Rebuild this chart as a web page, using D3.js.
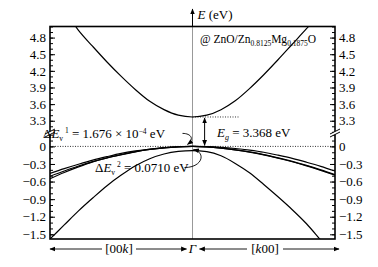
<!DOCTYPE html>
<html>
<head>
<meta charset="utf-8">
<script src="https://cdn.jsdelivr.net/npm/d3@7"></script>
<style>
  body { margin: 0; background: #fff; }
  svg text { font-family: "Liberation Serif", "Times New Roman", Times, serif; fill: #000; }
</style>
</head>
<body>
<div id="chart"></div>
<script>
// Band structure of ZnO/Zn0.8125Mg0.1875O along [00k] (k < 0) and [k00] (k > 0)
const kValues = [-1, -0.9, -0.8, -0.7, -0.6, -0.5, -0.4, -0.3, -0.2, -0.1, 0,
  0.1, 0.2, 0.3, 0.4, 0.5, 0.6, 0.7, 0.8, 0.9, 1];

const conduction = [5.55, 5.3, 4.93, 4.64, 4.36, 4.1, 3.86, 3.65, 3.5, 3.4, 3.368,
  3.4, 3.5, 3.66, 3.88, 4.13, 4.4, 4.68, 4.96, 5.25, 5.55];
const valence1 = [-0.46, -0.38, -0.305, -0.235, -0.175, -0.12, -0.078, -0.044, -0.02, -0.006, 0,
  -0.005, -0.016, -0.036, -0.064, -0.1, -0.15, -0.205, -0.27, -0.34, -0.42];
const valence2 = [-0.51, -0.42, -0.335, -0.26, -0.195, -0.14, -0.09, -0.052, -0.024, -0.007, -0.00017,
  -0.008, -0.028, -0.058, -0.095, -0.14, -0.195, -0.255, -0.325, -0.4, -0.48];
const valence3 = [-0.55, -0.445, -0.35, -0.265, -0.198, -0.142, -0.092, -0.053, -0.025, -0.008, -0.00017,
  -0.009, -0.03, -0.06, -0.098, -0.145, -0.2, -0.262, -0.333, -0.41, -0.49];
const valence4 = [-1.58, -1.34, -1.1, -0.88, -0.67, -0.49, -0.33, -0.21, -0.13, -0.085, -0.071,
  -0.09, -0.16, -0.29, -0.45, -0.65, -0.86, -1.08, -1.32, -1.6, -1.88];

const upperTicks = [3.3, 3.6, 3.9, 4.2, 4.5, 4.8];
const lowerTicks = [-1.5, -1.2, -0.9, -0.6, -0.3, 0];

const bandGap = 3.368;

const width = 378;
const height = 267;

const svg = d3.select('#chart')
  .append('svg')
  .attr('width', width)
  .attr('height', height);

const plotLeft = 50, plotRight = 335, plotTop = 26.5, plotBottom = 239, breakY = 133.5;

const x = d3.scaleLinear().domain([-1, 1]).range([plotLeft, plotRight]);
const yHigh = d3.scaleLinear().domain([3.07, 5.0]).range([breakY, plotTop]);
const yLow = d3.scaleLinear().domain([-1.58, 0.22]).range([plotBottom, breakY]);
const y = (e) => (e > 2 ? yHigh(e) : yLow(e));

// arrow heads
const defs = svg.append('defs');
defs.append('marker')
  .attr('id', 'head')
  .attr('viewBox', '0 0 10 10')
  .attr('refX', 9).attr('refY', 5)
  .attr('markerWidth', 6).attr('markerHeight', 6)
  .attr('markerUnits', 'userSpaceOnUse')
  .attr('orient', 'auto-start-reverse')
  .append('path')
  .attr('d', 'M0,1 L10,5 L0,9 Z')
  .attr('fill', '#000');

defs.append('clipPath').attr('id', 'upperClip')
  .append('rect').attr('x', plotLeft).attr('y', plotTop)
  .attr('width', plotRight - plotLeft).attr('height', breakY - plotTop);
defs.append('clipPath').attr('id', 'lowerClip')
  .append('rect').attr('x', plotLeft).attr('y', breakY)
  .attr('width', plotRight - plotLeft).attr('height', plotBottom - breakY);

// Gamma line
svg.append('line')
  .attr('x1', x(0)).attr('x2', x(0))
  .attr('y1', plotTop).attr('y2', plotBottom)
  .attr('stroke', '#999').attr('stroke-width', 1);

// dotted reference lines
svg.append('line')
  .attr('x1', plotLeft).attr('x2', plotRight)
  .attr('y1', y(0)).attr('y2', y(0))
  .attr('stroke', '#000').attr('stroke-width', 0.8)
  .attr('stroke-dasharray', '1,1.5');
svg.append('line')
  .attr('x1', x(0)).attr('x2', x(0.33))
  .attr('y1', y(bandGap)).attr('y2', y(bandGap))
  .attr('stroke', '#000').attr('stroke-width', 0.8)
  .attr('stroke-dasharray', '1,1.5');

// bands
const line = d3.line()
  .x((d, i) => x(kValues[i]))
  .y((d) => y(d))
  .curve(d3.curveMonotoneX);

svg.append('path')
  .attr('clip-path', 'url(#upperClip)')
  .attr('d', line(conduction))
  .attr('fill', 'none').attr('stroke', '#000').attr('stroke-width', 1.2);

svg.append('g')
  .attr('clip-path', 'url(#lowerClip)')
  .selectAll('path')
  .data([valence1, valence2, valence3, valence4])
  .enter()
  .append('path')
  .attr('d', line)
  .attr('fill', 'none').attr('stroke', '#000').attr('stroke-width', 1.2);

// axes: major and minor ticks pointing inward
function drawAxis(scale, majors, minors, side) {
  const axisFn = side === 'left' ? d3.axisLeft : d3.axisRight;
  const pos = side === 'left' ? plotLeft : plotRight;
  const fmt = (d) => (d === 0 ? '0' : d3.format('.1f')(d));

  const gMinor = svg.append('g')
    .attr('transform', `translate(${pos},0)`)
    .call(axisFn(scale).tickValues(minors).tickSize(-3).tickFormat(''));
  gMinor.select('.domain').remove();

  const g = svg.append('g')
    .attr('transform', `translate(${pos},0)`)
    .call(axisFn(scale).tickValues(majors).tickSize(-5).tickPadding(4).tickFormat(fmt));
  g.select('.domain').remove();
  g.attr('font-family', null);
  g.selectAll('text').attr('font-size', 13);
}

const upperMinor = d3.range(31, 51).map((d) => d / 10);
const lowerMinor = d3.range(-15, 3).map((d) => d / 10);
drawAxis(yHigh, upperTicks, upperMinor, 'left');
drawAxis(yLow, lowerTicks, lowerMinor, 'left');
drawAxis(yHigh, upperTicks, upperMinor, 'right');
drawAxis(yLow, lowerTicks, lowerMinor, 'right');

// frame
svg.append('rect')
  .attr('x', plotLeft).attr('y', plotTop)
  .attr('width', plotRight - plotLeft).attr('height', plotBottom - plotTop)
  .attr('fill', 'none').attr('stroke', '#000').attr('stroke-width', 1.6);

// axis breaks
[plotLeft, plotRight].forEach((px) => {
  svg.append('polygon')
    .attr('points', `${px - 5},${breakY + 0.5} ${px + 5},${breakY - 4.5} ${px + 5},${breakY - 1.5} ${px - 5},${breakY + 3.5}`)
    .attr('fill', '#fff');
  [0, 3].forEach((off) => {
    svg.append('line')
      .attr('x1', px - 5).attr('y1', breakY + 0.5 + off)
      .attr('x2', px + 5).attr('y2', breakY - 4.5 + off)
      .attr('stroke', '#000').attr('stroke-width', 1);
  });
});

// E axis arrow above the frame
svg.append('line')
  .attr('x1', x(0)).attr('x2', x(0))
  .attr('y1', plotTop).attr('y2', 9)
  .attr('stroke', '#000').attr('stroke-width', 1)
  .attr('marker-end', 'url(#head)');

const eLabel = svg.append('text').attr('x', x(0) + 5).attr('y', 19).attr('font-size', 13);
eLabel.append('tspan').attr('font-style', 'italic').text('E');
eLabel.append('tspan').text(' (eV)');

// sample label
const sample = svg.append('text').attr('x', 200).attr('y', 43).attr('font-size', 11.5);
sample.append('tspan').text('@ ZnO/Zn');
sample.append('tspan').attr('font-size', 7.5).attr('dy', 3).text('0.8125');
sample.append('tspan').attr('dy', -3).text('Mg');
sample.append('tspan').attr('font-size', 7.5).attr('dy', 3).text('0.1875');
sample.append('tspan').attr('dy', -3).text('O');

// Eg arrow and label
svg.append('line')
  .attr('x1', x(0.085)).attr('x2', x(0.085))
  .attr('y1', y(bandGap) + 1).attr('y2', y(0) - 1)
  .attr('stroke', '#000').attr('stroke-width', 1)
  .attr('marker-start', 'url(#head)')
  .attr('marker-end', 'url(#head)');

const eg = svg.append('text').attr('x', 217).attr('y', 137).attr('font-size', 13);
eg.append('tspan').attr('font-style', 'italic').text('E');
eg.append('tspan').attr('font-style', 'italic').attr('font-size', 8).attr('dy', 3).text('g');
eg.append('tspan').attr('dy', -3).text(' = 3.368 eV');

// Delta Ev1 label and arrow
const dv1 = svg.append('text').attr('x', 43).attr('y', 138).attr('font-size', 13);
dv1.append('tspan').text('Δ');
dv1.append('tspan').attr('font-style', 'italic').text('E');
dv1.append('tspan').attr('font-size', 7.5).attr('dy', 3).text('v');
dv1.append('tspan').attr('font-size', 7.5).attr('dy', -8).text(' 1');
dv1.append('tspan').attr('dy', 5).text(' = 1.676 × 10');
dv1.append('tspan').attr('font-size', 7.5).attr('dy', -4).text('−4');
dv1.append('tspan').attr('dy', 4).text(' eV');

svg.append('path')
  .attr('d', `M${x(0) - 10},${y(0) - 13} C${x(0) - 1},${y(0) - 13} ${x(0) + 2},${y(0) - 7} ${x(0) - 5},${y(0) - 2}`)
  .attr('fill', 'none').attr('stroke', '#000').attr('stroke-width', 0.9)
  .attr('marker-end', 'url(#head)');

// Delta Ev2 label and arrow
const dv2 = svg.append('text').attr('x', 95).attr('y', 172).attr('font-size', 13);
dv2.append('tspan').text('Δ');
dv2.append('tspan').attr('font-style', 'italic').text('E');
dv2.append('tspan').attr('font-size', 7.5).attr('dy', 3).text('v');
dv2.append('tspan').attr('font-size', 7.5).attr('dy', -8).text(' 2');
dv2.append('tspan').attr('dy', 5).text(' = 0.0710 eV');

svg.append('path')
  .attr('d', `M${x(0) - 8},${y(-0.071) + 17} C${x(0) + 10},${y(-0.071) + 17} ${x(0) + 14},${y(-0.071) + 2} ${x(0) + 1},${y(-0.071) - 1}`)
  .attr('fill', 'none').attr('stroke', '#000').attr('stroke-width', 0.9)
  .attr('marker-end', 'url(#head)');

// bottom direction labels
const bottomY = 253;
const arrows = [[102, plotLeft], [136, x(0) - 6], [247, x(0) + 7], [283, plotRight + 4]];
arrows.forEach(([x1, x2]) => {
  svg.append('line')
    .attr('x1', x1).attr('x2', x2)
    .attr('y1', bottomY - 4).attr('y2', bottomY - 4)
    .attr('stroke', '#000').attr('stroke-width', 0.9)
    .attr('marker-end', 'url(#head)');
});

const lab1 = svg.append('text').attr('x', 119).attr('y', bottomY).attr('font-size', 13).attr('text-anchor', 'middle');
lab1.append('tspan').text('[00');
lab1.append('tspan').attr('font-style', 'italic').text('k');
lab1.append('tspan').text(']');

svg.append('text').attr('x', x(0)).attr('y', bottomY).attr('font-size', 13)
  .attr('text-anchor', 'middle').attr('font-style', 'italic').text('Γ');

const lab2 = svg.append('text').attr('x', 265).attr('y', bottomY).attr('font-size', 13).attr('text-anchor', 'middle');
lab2.append('tspan').text('[');
lab2.append('tspan').attr('font-style', 'italic').text('k');
lab2.append('tspan').text('00]');
</script>
</body>
</html>
